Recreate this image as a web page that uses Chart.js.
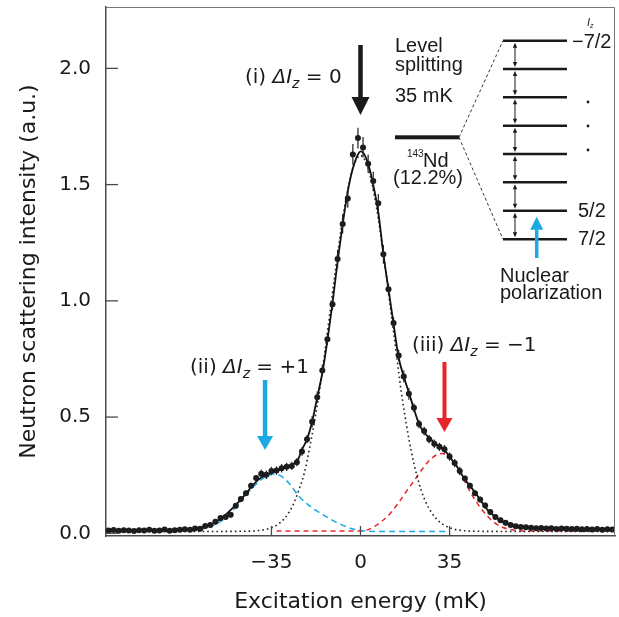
<!DOCTYPE html>
<html>
<head>
<meta charset="utf-8">
<script src="https://cdn.jsdelivr.net/npm/chart.js@4.4.1/dist/chart.umd.min.js"></script>
<style>
  html, body { margin: 0; padding: 0; background: #fff; }
</style>
</head>
<body>
<canvas id="chart" width="619" height="617"></canvas>
<script>
// measured points (excitation energy in mK, intensity in a.u.)
const DATA_X = [-99,-97,-95,-93,-91,-89,-87,-85,-83,-81,-79,-77,-75,-73,-71,-69,-67,-65,-63,-61,
  -59,-57,-55,-53,-51,-49,-47,-45,-43,-41,-39,-37,-35,-33,-31,-29,-27,-25,-23,-21,
  -19,-17,-15,-13,-11,-9,-7,-5,-3,-1,1,3,5,7,9,11,13,15,17,19,
  21,23,25,27,29,31,33,35,37,39,41,43,45,47,49,51,53,55,57,59,
  61,63,65,67,69,71,73,75,77,79,81,83,85,87,89,91,93,95,97,99];
const DATA_Y = [0.012,0.014,0.011,0.013,0.012,0.010,0.013,0.012,0.015,0.011,0.012,0.016,0.011,0.013,0.015,0.017,0.015,0.021,0.020,0.031,
  0.036,0.050,0.066,0.070,0.080,0.118,0.148,0.172,0.205,0.238,0.256,0.252,0.268,0.270,0.280,0.286,0.290,0.306,0.352,0.405,
  0.480,0.585,0.700,0.835,0.985,1.180,1.330,1.440,1.630,1.700,1.660,1.590,1.515,1.420,1.200,1.050,0.905,0.765,0.675,0.600,
  0.540,0.470,0.440,0.405,0.385,0.372,0.362,0.330,0.302,0.268,0.236,0.205,0.172,0.145,0.120,0.092,0.070,0.056,0.045,0.036,
  0.030,0.027,0.026,0.024,0.022,0.023,0.021,0.022,0.019,0.021,0.020,0.018,0.020,0.017,0.019,0.016,0.018,0.015,0.017,0.016];
const DATA_ERR = [0.008,0.008,0.008,0.008,0.008,0.008,0.008,0.008,0.008,0.008,0.008,0.008,0.008,0.008,0.008,0.008,0.008,0.008,0.008,0.008,
  0.012,0.012,0.012,0.012,0.012,0.012,0.012,0.012,0.012,0.012,0.018,0.018,0.018,0.018,0.018,0.018,0.018,0.018,0.018,0.018,
  0.025,0.025,0.025,0.025,0.025,0.04,0.04,0.04,0.045,0.045,0.045,0.04,0.04,0.04,0.04,0.025,0.025,0.025,0.025,0.025,
  0.018,0.018,0.018,0.018,0.018,0.018,0.018,0.018,0.018,0.018,0.012,0.012,0.012,0.012,0.012,0.012,0.012,0.012,0.012,0.012,
  0.008,0.008,0.008,0.008,0.008,0.008,0.008,0.008,0.008,0.008,0.008,0.008,0.008,0.008,0.008,0.008,0.008,0.008,0.008,0.008];

// total fit (solid line)
const FIT_X = [-100,-90,-80,-72,-66,-62,-58,-55,-52,-49,-46,-43,-40,-37,-34,-31,-28,-26,-24.5,-23,-21,-19,-17,-15,-13,-11,-9,-7,-5,-3,-1,0,
  1,3,5,7,9,11,13,15,17,19,21,23,25,27,29,31,34,36,38,41,44,47,50,53,57,62,70,80,90,100];
const FIT_Y = [0.013,0.013,0.013,0.014,0.018,0.026,0.042,0.062,0.090,0.122,0.158,0.198,0.232,0.252,0.265,0.277,0.290,0.302,0.318,0.360,0.405,0.480,0.585,0.690,0.830,0.990,1.170,1.330,1.470,1.570,1.630,1.643,
  1.638,1.590,1.500,1.380,1.200,1.050,0.900,0.755,0.675,0.605,0.535,0.470,0.435,0.410,0.390,0.372,0.345,0.315,0.285,0.232,0.190,0.145,0.100,0.070,0.044,0.028,0.022,0.020,0.019,0.018];

// (i) central component, dotted
const MID_X = [-100,-60,-45,-40,-36,-33,-30,-28,-26,-24,-22,-20,-18,-16,-14,-12,-10,-8,-6,-4,-2,0,
  2,4,6,8,10,12,14,16,18,20,22,24,26,28,30,33,36,40,45,60,100];
const MID_Y = [0.008,0.008,0.009,0.012,0.020,0.034,0.062,0.092,0.134,0.193,0.262,0.367,0.487,0.620,0.780,0.950,1.120,1.280,1.420,1.530,1.600,1.625,
  1.600,1.530,1.420,1.280,1.120,0.950,0.780,0.610,0.470,0.350,0.255,0.180,0.126,0.088,0.060,0.034,0.020,0.012,0.009,0.008,0.008];

// (ii) dIz = +1 component, blue dashed
const BLUE_X = [-75,-65,-60,-55,-50,-45,-40,-37,-34,-31,-28,-24,-20,-16,-12,-8,-4,0,5,35];
const BLUE_Y = [0.008,0.012,0.025,0.050,0.100,0.165,0.222,0.245,0.255,0.245,0.214,0.157,0.118,0.088,0.062,0.040,0.022,0.012,0.008,0.008];

// (iii) dIz = -1 component, red dashed
const RED_X = [-33,0,3,6,9,12,15,18,21,24,27,30,32,34,37,40,43,47,50,53,56,60,65,100];
const RED_Y = [0.010,0.010,0.016,0.033,0.057,0.090,0.132,0.180,0.225,0.272,0.313,0.338,0.343,0.335,0.303,0.245,0.180,0.112,0.072,0.043,0.025,0.014,0.010,0.010];

const X_TICKS = [-35, 0, 35];
const Y_TICKS = [0, 0.5, 1.0, 1.5, 2.0];
const LEVEL_LABELS = ['\u22127/2', '5/2', '7/2'];

const AX = '#4a4a4a';
const BLUE = '#1aa9e3';
const RED = '#e8242b';
const MAIN_FONT = '"DejaVu Sans", sans-serif';
const INSET_FONT = '"Liberation Sans", Arial, sans-serif';

const pts = (xs, ys) => xs.map((x, i) => ({ x: x, y: ys[i] }));

function drawRuns(ctx, x, y, runs) {
    runs.forEach(r => {
        ctx.font = r[1];
        ctx.fillText(r[0], x, y + (r[2] || 0));
        x += ctx.measureText(r[0]).width;
    });
}

function transitionLabel(ctx, x, y, prefix, value) {
    drawRuns(ctx, x, y, [
        [prefix + ' ', '20px ' + MAIN_FONT],
        ['\u0394I', 'italic 20px ' + MAIN_FONT],
        ['z', 'italic 14px ' + MAIN_FONT, 5],
        [' = ' + value, '20px ' + MAIN_FONT]
    ]);
}

function vArrow(ctx, x, y0, y1, color, shaft, headW, headL) {
    const dir = Math.sign(y1 - y0);
    const base = y1 - dir * headL;
    ctx.fillStyle = color;
    ctx.fillRect(x - shaft / 2, Math.min(y0, base), shaft, Math.abs(base - y0));
    ctx.beginPath();
    ctx.moveTo(x - headW / 2, base);
    ctx.lineTo(x + headW / 2, base);
    ctx.lineTo(x, y1);
    ctx.closePath();
    ctx.fill();
}

function smallHead(ctx, x, y, dir) {
    ctx.beginPath();
    ctx.moveTo(x, y);
    ctx.lineTo(x - 2.2, y - dir * 5);
    ctx.lineTo(x + 2.2, y - dir * 5);
    ctx.closePath();
    ctx.fill();
}

const decor = {
    id: 'decor',
    afterDatasetsDraw(chart) {
        const { ctx, scales: { y } } = chart;
        // error bars
        const meta = chart.getDatasetMeta(0);
        ctx.save();
        ctx.strokeStyle = '#222';
        ctx.lineWidth = 1.2;
        meta.data.forEach((p, i) => {
            ctx.beginPath();
            ctx.moveTo(p.x, y.getPixelForValue(DATA_Y[i] - DATA_ERR[i]));
            ctx.lineTo(p.x, y.getPixelForValue(DATA_Y[i] + DATA_ERR[i]));
            ctx.stroke();
        });
        ctx.restore();
    },
    afterDraw(chart) {
        const { ctx, chartArea: a, scales: { x, y } } = chart;
        ctx.save();
        // frame on top and right
        ctx.strokeStyle = '#777';
        ctx.lineWidth = 1;
        ctx.beginPath();
        ctx.moveTo(a.left, a.top + 0.5);
        ctx.lineTo(a.right - 0.5, a.top + 0.5);
        ctx.lineTo(a.right - 0.5, a.bottom);
        ctx.stroke();
        // inward ticks
        ctx.strokeStyle = AX;
        ctx.lineWidth = 1.3;
        X_TICKS.forEach(v => {
            const px = x.getPixelForValue(v);
            ctx.beginPath(); ctx.moveTo(px, a.bottom); ctx.lineTo(px, a.bottom - 10); ctx.stroke();
        });
        Y_TICKS.forEach(v => {
            const py = y.getPixelForValue(v);
            ctx.beginPath(); ctx.moveTo(a.left, py); ctx.lineTo(a.left + 12, py); ctx.stroke();
        });

        // transition arrows and labels
        ctx.fillStyle = '#1a1a1a';
        ctx.textBaseline = 'alphabetic';
        ctx.textAlign = 'left';
        transitionLabel(ctx, 245, 83, '(i)', '0');
        vArrow(ctx, x.getPixelForValue(0), 45, 115, '#1a1a1a', 4.5, 18, 18);
        ctx.fillStyle = '#1a1a1a';
        transitionLabel(ctx, 190, 373, '(ii)', '+1');
        vArrow(ctx, x.getPixelForValue(-37.5), 380, 450, BLUE, 4.5, 16, 14);
        ctx.fillStyle = '#1a1a1a';
        transitionLabel(ctx, 412, 351, '(iii)', '\u22121');
        vArrow(ctx, x.getPixelForValue(33), 362, 432, RED, 4, 16, 14);

        // inset: level scheme of 143Nd
        ctx.fillStyle = '#1a1a1a';
        ctx.font = '20px ' + INSET_FONT;
        ctx.fillText('Level', 395, 52);
        ctx.fillText('splitting', 395, 71);
        ctx.fillText('35 mK', 395, 102);
        ctx.fillRect(395, 135.3, 64, 4);
        ctx.font = '10px ' + INSET_FONT;
        ctx.fillText('143', 407, 157);
        ctx.font = '20px ' + INSET_FONT;
        ctx.fillText('Nd', 423, 167);
        ctx.fillText('(12.2%)', 393, 184);

        const levels = [40.7, 69, 97.3, 125.7, 154, 182.3, 210.7, 239.3];
        ctx.strokeStyle = '#333';
        ctx.lineWidth = 1;
        ctx.setLineDash([3, 2.5]);
        ctx.beginPath();
        ctx.moveTo(459, 137.3); ctx.lineTo(503, levels[0]);
        ctx.moveTo(459, 137.3); ctx.lineTo(503, levels[levels.length - 1]);
        ctx.stroke();
        ctx.setLineDash([]);
        ctx.strokeStyle = '#1a1a1a';
        ctx.lineWidth = 2.6;
        levels.forEach(ly => {
            ctx.beginPath(); ctx.moveTo(503, ly); ctx.lineTo(567, ly); ctx.stroke();
        });
        ctx.lineWidth = 1;
        for (let i = 0; i < levels.length - 1; i++) {
            const t = levels[i] + 2, b = levels[i + 1] - 2;
            ctx.beginPath(); ctx.moveTo(515, t + 3); ctx.lineTo(515, b - 3); ctx.stroke();
            smallHead(ctx, 515, t, -1);
            smallHead(ctx, 515, b, 1);
        }
        ctx.font = 'italic 11px ' + INSET_FONT;
        ctx.fillText('I', 587, 26);
        ctx.font = 'italic 7px ' + INSET_FONT;
        ctx.fillText('z', 590, 28);
        ctx.font = '20px ' + INSET_FONT;
        ctx.fillText(LEVEL_LABELS[0], 572, 48);
        ctx.fillText(LEVEL_LABELS[1], 578, 217);
        ctx.fillText(LEVEL_LABELS[2], 578, 245);
        [102, 126, 150].forEach(dy => {
            ctx.beginPath(); ctx.arc(588, dy, 1.4, 0, Math.PI * 2); ctx.fill();
        });
        vArrow(ctx, 536.7, 258, 216.7, BLUE, 3.5, 13, 13);
        ctx.fillStyle = '#1a1a1a';
        ctx.font = '20px ' + INSET_FONT;
        ctx.fillText('Nuclear', 500, 282);
        ctx.fillText('polarization', 500, 299);
        ctx.restore();
    }
};

new Chart(document.getElementById('chart'), {
    type: 'scatter',
    data: {
        datasets: [
            {
                label: 'data',
                data: pts(DATA_X, DATA_Y),
                pointRadius: 3,
                pointBackgroundColor: '#1a1a1a',
                pointBorderWidth: 0,
                showLine: false
            },
            {
                label: 'fit',
                type: 'line',
                data: pts(FIT_X, FIT_Y),
                borderColor: '#111',
                borderWidth: 1.8,
                pointRadius: 0,
                cubicInterpolationMode: 'monotone'
            },
            {
                label: '(i)',
                type: 'line',
                data: pts(MID_X, MID_Y),
                borderColor: '#222',
                borderWidth: 1.6,
                borderDash: [1.6, 3],
                pointRadius: 0,
                cubicInterpolationMode: 'monotone'
            },
            {
                label: '(ii)',
                type: 'line',
                data: pts(BLUE_X, BLUE_Y),
                borderColor: BLUE,
                borderWidth: 1.5,
                borderDash: [6, 4],
                pointRadius: 0,
                cubicInterpolationMode: 'monotone'
            },
            {
                label: '(iii)',
                type: 'line',
                data: pts(RED_X, RED_Y),
                borderColor: RED,
                borderWidth: 1.5,
                borderDash: [5, 4],
                pointRadius: 0,
                cubicInterpolationMode: 'monotone'
            }
        ]
    },
    options: {
        responsive: false,
        animation: false,
        events: [],
        layout: { padding: { top: 7, right: 4, left: 0, bottom: 0 } },
        scales: {
            x: {
                type: 'linear',
                min: -100, max: 100,
                afterFit: s => { s.height = 81; s.paddingLeft = 0; s.paddingRight = 0; },
                afterBuildTicks: s => { s.ticks = X_TICKS.map(v => ({ value: v })); },
                grid: { display: false, drawTicks: false },
                border: { color: AX, width: 1.5 },
                ticks: {
                    color: '#1a1a1a',
                    padding: 15,
                    maxRotation: 0,
                    font: { family: MAIN_FONT, size: 20 },
                    callback: v => String(v).replace('-', '\u2212')
                },
                title: {
                    display: true,
                    text: 'Excitation energy (mK)',
                    color: '#1a1a1a',
                    font: { family: MAIN_FONT, size: 22 },
                    padding: { top: 0, bottom: 2 }
                }
            },
            y: {
                min: -0.0116, max: 2.264,
                afterFit: s => { s.width = 106; s.paddingTop = 0; s.paddingBottom = 0; },
                afterBuildTicks: s => { s.ticks = Y_TICKS.map(v => ({ value: v })); },
                grid: { display: false, drawTicks: false },
                border: { color: AX, width: 1.5 },
                ticks: {
                    color: '#1a1a1a',
                    padding: 15,
                    font: { family: MAIN_FONT, size: 20 },
                    callback: v => v.toFixed(1)
                },
                title: {
                    display: true,
                    text: 'Neutron scattering intensity (a.u.)',
                    color: '#1a1a1a',
                    font: { family: MAIN_FONT, size: 22 },
                    padding: { top: 16, bottom: 0 }
                }
            }
        },
        plugins: {
            legend: { display: false },
            tooltip: { enabled: false }
        }
    },
    plugins: [decor]
});
</script>
</body>
</html>
